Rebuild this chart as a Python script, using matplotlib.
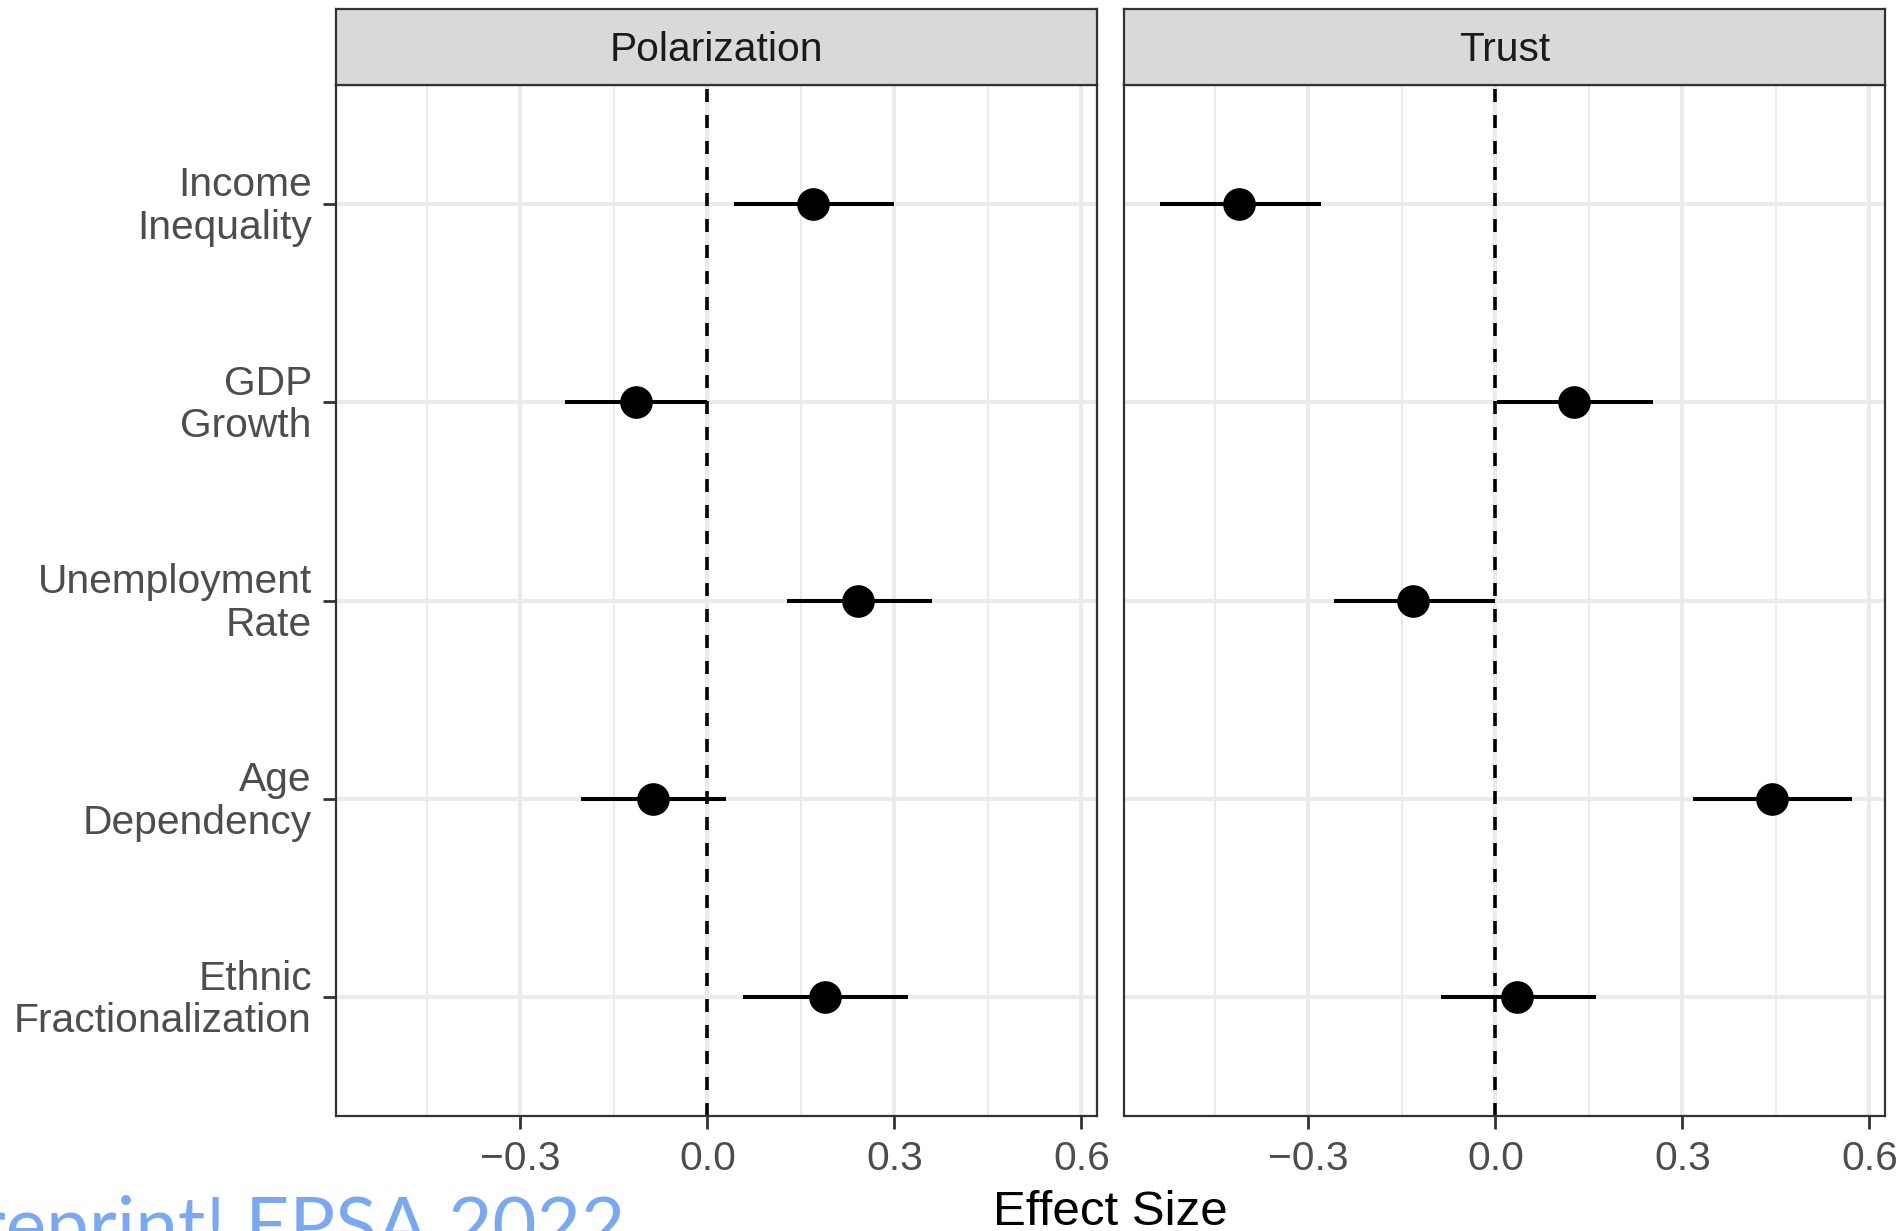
import numpy as np
import matplotlib
matplotlib.use("Agg")
import matplotlib.pyplot as plt
from matplotlib.transforms import ScaledTranslation

# variables, top to bottom
variables = ["Income\nInequality", "GDP\nGrowth", "Unemployment\nRate",
             "Age\nDependency", "Ethnic\nFractionalization"]
panels = ["Polarization", "Trust"]

# point estimates and interval bounds
pol_est = [0.170, -0.115, 0.242, -0.088, 0.188]
pol_low = [0.043, -0.229, 0.127, -0.203, 0.057]
pol_high = [0.299, -0.001, 0.360, 0.029, 0.321]

trust_est = [-0.412, 0.126, -0.132, 0.443, 0.035]
trust_low = [-0.539, 0.002, -0.259, 0.317, -0.088]
trust_high = [-0.280, 0.253, 0.000, 0.572, 0.161]

x_ticks = [-0.3, 0.0, 0.3, 0.6]
x_minor = [-0.45, -0.15, 0.15, 0.45]

plt.rcParams["font.family"] = ["Liberation Sans", "DejaVu Sans"]

W, H = 1903, 1231
fig = plt.figure(figsize=(W / 100, H / 100), dpi=100)

grey20 = "#333333"
grey30 = "#4D4D4D"
grid = "#EBEBEB"

panel_px = [(336, 1097), (1124, 1885)]
top_px, bottom_px = 85, 1116
strip_top = 9

data = [(pol_est, pol_low, pol_high), (trust_est, trust_low, trust_high)]
ypos = np.arange(len(variables))[::-1] + 1

for i, (name, (x0, x1)) in enumerate(zip(panels, panel_px)):
    ax = fig.add_axes([x0 / W, 1 - bottom_px / H, (x1 - x0) / W, (bottom_px - top_px) / H])
    est, low, high = data[i]
    ax.set_xlim(-0.596, 0.625)
    ax.set_ylim(0.4, 5.6)
    ax.set_xticks(x_ticks)
    ax.set_xticks(x_minor, minor=True)
    ax.set_xticklabels(["\u22120.3", "0.0", "0.3", "0.6"])
    ax.set_yticks(ypos)
    ax.grid(True, which="major", color=grid, lw=2.9)
    ax.grid(True, which="minor", axis="x", color=grid, lw=1.5)
    ax.set_axisbelow(True)
    ax.tick_params(axis="both", which="major", length=9.4, width=2.0, color=grey20,
                   labelsize=29.3, labelcolor=grey30)
    ax.tick_params(axis="x", pad=8)
    ax.tick_params(axis="y", pad=8)
    ax.tick_params(axis="x", which="minor", length=0)
    if i == 0:
        ax.set_yticklabels(variables, linespacing=1.15, ha="right", multialignment="right")
        shift = ScaledTranslation(0, 2.5 / 72, fig.dpi_scale_trans)
        for lab in ax.get_yticklabels():
            lab.set_transform(lab.get_transform() + shift)
    else:
        ax.set_yticklabels([])
        ax.tick_params(axis="y", which="both", length=0)
    for sp in ax.spines.values():
        sp.set_color(grey20)
        sp.set_linewidth(1.6)

    ax.axvline(0, color="black", lw=2.6, ls=(0, (3.6, 3.6)), zorder=2)
    ax.hlines(ypos, low, high, color="black", lw=2.9, zorder=3)
    ax.plot(est, ypos, "o", color="black", ms=22.5, zorder=4)

    # facet strip
    sax = fig.add_axes([x0 / W, 1 - top_px / H, (x1 - x0) / W, (top_px - strip_top) / H])
    sax.set_facecolor("#D9D9D9")
    sax.set_xticks([])
    sax.set_yticks([])
    for sp in sax.spines.values():
        sp.set_color(grey20)
        sp.set_linewidth(1.6)
    sax.text(0.5, 0.46, name, ha="center", va="center", fontsize=29.3,
             color="#1A1A1A", transform=sax.transAxes)

fig.text(1110 / W, 1 - 1225 / H, "Effect Size", ha="center", va="baseline",
         fontsize=35.5, color="black")

# slide watermark, cut off at the figure edge
fig.text(625 / W, 1 - 1251 / H, "Preprint! EPSA 2022", ha="right", va="baseline",
         fontsize=55, color="#78A9F2", family=["Lato", "DejaVu Sans"])

fig.savefig("out.png", dpi=100, facecolor="white")
